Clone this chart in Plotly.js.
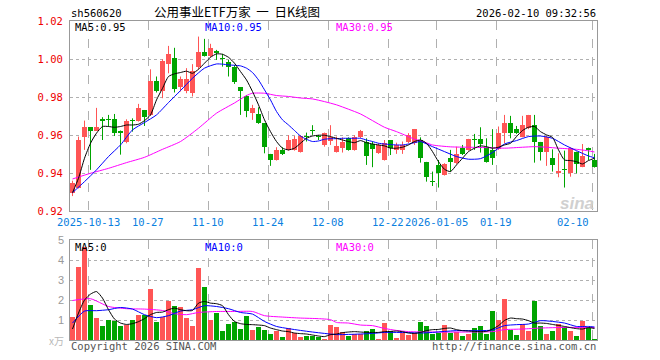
<!DOCTYPE html>
<html><head><meta charset="utf-8">
<script src="https://cdn.plot.ly/plotly-3.0.1.min.js"></script>
<style>html,body{margin:0;padding:0;background:#fff;}#chart{width:660px;height:360px;}</style>
</head><body><div id="chart"></div>
<script>
// ---- data (index 0..87 = trading days) ----
const tickIdx = [3, 13, 23, 33, 43, 53, 61, 71, 87];
const tickText = ['2025-10-13', '10-27', '11-10', '11-24', '12-08', '12-22', '2026-01-05', '01-19', '02-10'];

const openP = [
0.9295,0.9321,0.9593,0.9642,0.9625,0.9684,0.9684,0.9684,0.9625,0.9565,
0.9679,0.9677,0.9733,0.9705,0.9888,0.9835,0.9975,1.0007,0.9856,0.9833,
0.9821,0.9961,1.0039,1.0018,1.0040,1.0005,0.9986,0.9961,0.9853,0.9809,
0.9716,0.9712,0.9663,0.9502,0.9470,0.9523,0.9523,0.9523,0.9514,0.9593,
0.9625,0.9593,0.9549,0.9572,0.9514,0.9532,0.9584,0.9523,0.9589,0.9567,
0.9554,0.9509,0.9470,0.9575,0.9523,0.9523,0.9565,0.9558,0.9575,0.9460,
0.9361,0.9444,0.9391,0.9482,0.9453,0.9532,0.9523,0.9581,0.9581,0.9540,
0.9523,0.9528,0.9614,0.9663,0.9633,0.9593,0.9640,0.9654,0.9565,0.9514,
0.9479,0.9404,0.9421,0.9404,0.9512,0.9435,0.9535,0.9470];
const closeP = [
0.9351,0.9575,0.9642,0.9625,0.9642,0.9677,0.9680,0.9614,0.9614,0.9677,
0.9675,0.9744,0.9698,0.9888,0.9833,0.9988,1.0028,0.9844,0.9896,0.9896,
0.9940,1.0039,1.0018,1.0060,1.0035,1.0000,0.9958,0.9882,0.9835,0.9725,
0.9742,0.9667,0.9537,0.9470,0.9523,0.9502,0.9575,0.9579,0.9596,0.9589,
0.9621,0.9589,0.9611,0.9593,0.9544,0.9565,0.9523,0.9593,0.9625,0.9491,
0.9526,0.9549,0.9561,0.9532,0.9549,0.9549,0.9600,0.9633,0.9482,0.9382,
0.9356,0.9400,0.9449,0.9461,0.9502,0.9502,0.9581,0.9575,0.9554,0.9461,
0.9482,0.9611,0.9663,0.9611,0.9614,0.9654,0.9707,0.9567,0.9514,0.9593,
0.9444,0.9412,0.9416,0.9532,0.9447,0.9491,0.9523,0.9435];
const highP = [
0.9361,0.9593,0.9677,0.9642,0.9744,0.9695,0.9707,0.9712,0.9625,0.9684,
0.9689,0.9765,0.9733,0.9947,0.9909,1.0000,1.0070,1.0060,0.9909,0.9953,
0.9974,1.0119,1.0107,1.0081,1.0049,1.0028,0.9996,0.9970,0.9853,0.9812,
0.9760,0.9747,0.9663,0.9502,0.9537,0.9537,0.9600,0.9596,0.9600,0.9614,
0.9653,0.9602,0.9614,0.9653,0.9593,0.9589,0.9589,0.9600,0.9628,0.9584,
0.9567,0.9558,0.9575,0.9575,0.9561,0.9567,0.9611,0.9633,0.9589,0.9460,
0.9409,0.9470,0.9453,0.9523,0.9540,0.9549,0.9581,0.9607,0.9642,0.9584,
0.9632,0.9646,0.9707,0.9702,0.9649,0.9702,0.9707,0.9707,0.9565,0.9596,
0.9526,0.9505,0.9519,0.9537,0.9514,0.9554,0.9535,0.9502];
const lowP = [
0.9280,0.9320,0.9523,0.9418,0.9625,0.9575,0.9646,0.9596,0.9498,0.9558,
0.9619,0.9672,0.9649,0.9702,0.9825,0.9795,0.9926,0.9825,0.9830,0.9821,
0.9804,0.9947,1.0014,1.0010,0.9996,0.9961,0.9909,0.9870,0.9707,0.9695,
0.9681,0.9660,0.9505,0.9439,0.9467,0.9496,0.9519,0.9519,0.9509,0.9567,
0.9602,0.9575,0.9540,0.9549,0.9509,0.9509,0.9519,0.9519,0.9584,0.9444,
0.9432,0.9502,0.9467,0.9496,0.9502,0.9502,0.9558,0.9549,0.9456,0.9356,
0.9333,0.9325,0.9388,0.9409,0.9449,0.9496,0.9519,0.9523,0.9509,0.9456,
0.9444,0.9523,0.9558,0.9584,0.9607,0.9589,0.9632,0.9456,0.9467,0.9439,
0.9409,0.9379,0.9325,0.9382,0.9400,0.9432,0.9470,0.9430];

const ma5 = [
0.9298,0.9374,0.9479,0.9558,0.9611,0.9646,0.9646,0.9642,0.9646,0.9654,
0.9654,0.9658,0.9677,0.9707,0.9786,0.9847,0.9909,0.9923,0.9930,0.9937,
0.9926,0.9947,0.9979,1.0010,1.0028,1.0026,1.0010,0.9979,0.9935,0.9891,
0.9830,0.9760,0.9681,0.9619,0.9567,0.9532,0.9523,0.9532,0.9558,0.9584,
0.9596,0.9600,0.9600,0.9593,0.9584,0.9575,0.9567,0.9561,0.9572,0.9561,
0.9554,0.9549,0.9544,0.9532,0.9532,0.9537,0.9549,0.9567,0.9575,0.9558,
0.9514,0.9461,0.9421,0.9409,0.9444,0.9479,0.9514,0.9532,0.9544,0.9540,
0.9532,0.9537,0.9549,0.9558,0.9593,0.9625,0.9642,0.9646,0.9619,0.9602,
0.9589,0.9523,0.9470,0.9467,0.9461,0.9449,0.9467,0.9479];
const ma10Idx = [0,2,4,6,8,10,12,14,16,18,20,22,24,25,26,27,28,29,30,31,32,33,34,35,36,37,38,39,40,41,42,43,44,45,46,47,48,49,50,51,52,53,54,55,56,57,58,60,62,64,66,68,70,72,74,76,78,80,82,84,86,87];
const ma10 = [0.9298,0.9356,0.9418,0.9488,0.9549,0.9628,0.9667,0.9707,0.9772,0.9835,0.9900,0.9953,0.9975,0.9974,0.9970,0.9968,0.9965,0.9953,0.9930,0.9891,0.9839,0.9786,0.9725,0.9681,0.9654,0.9625,0.9596,0.9579,0.9567,0.9570,0.9579,0.9582,0.9582,0.9584,0.9584,0.9584,0.9584,0.9575,0.9567,0.9558,0.9554,0.9551,0.9549,0.9549,0.9554,0.9561,0.9567,0.9540,0.9514,0.9488,0.9474,0.9477,0.9509,0.9554,0.9572,0.9593,0.9596,0.9584,0.9549,0.9519,0.9491,0.9482];
const ma30Idx = [0,3,6,9,12,15,18,21,24,27,29,30,32,34,36,38,40,42,44,46,48,50,52,54,56,57,58,60,63,66,69,72,75,77,79,81,84,86,87];
const ma30 = [0.9370,0.9400,0.9426,0.9456,0.9484,0.9526,0.9567,0.9637,0.9716,0.9770,0.9809,0.9821,0.9821,0.9809,0.9804,0.9796,0.9791,0.9777,0.9760,0.9737,0.9712,0.9677,0.9642,0.9619,0.9593,0.9579,0.9572,0.9549,0.9539,0.9537,0.9535,0.9532,0.9537,0.9540,0.9537,0.9532,0.9526,0.9518,0.9512];

const vol = [
1.17,3.67,4.67,1.77,1.12,0.72,1.02,0.97,0.72,0.77,
1.02,1.27,1.27,2.57,0.92,1.13,1.97,1.72,1.67,1.12,
0.72,3.62,2.67,1.02,1.37,0.47,0.82,0.92,0.57,1.22,
0.52,0.67,0.52,0.32,0.47,0.17,0.58,0.37,0.13,0.22,
0.22,0.13,0.06,0.77,0.67,0.38,0.22,0.30,0.30,0.47,
0.57,0.07,0.87,0.47,0.12,0.37,0.27,0.35,0.92,0.72,
0.32,0.37,0.77,0.37,0.42,0.22,0.32,0.62,0.72,0.32,
1.47,1.02,2.07,0.52,0.27,0.82,0.47,1.97,0.72,0.32,
0.47,0.82,0.67,0.47,0.22,0.97,0.62,0.07];
const vma5 = [
0.55,1.35,2.00,2.30,2.43,2.10,1.52,1.05,0.85,0.78,
0.82,0.92,1.07,1.27,1.38,1.40,1.52,1.60,1.52,1.47,
1.48,1.85,1.93,1.85,1.82,1.72,1.27,0.93,0.82,0.78,
0.77,0.75,0.72,0.60,0.52,0.45,0.42,0.35,0.32,0.30,
0.25,0.20,0.17,0.27,0.30,0.37,0.40,0.42,0.40,0.38,
0.38,0.38,0.42,0.43,0.45,0.42,0.35,0.33,0.38,0.47,
0.52,0.53,0.58,0.60,0.52,0.47,0.45,0.43,0.42,0.43,
0.55,0.72,0.98,1.10,1.07,1.05,0.97,0.85,0.85,0.83,
0.78,0.73,0.68,0.62,0.57,0.55,0.62,0.58];
const vma10Idx = [0,2,4,6,8,10,12,14,16,18,20,22,24,26,28,30,32,34,36,38,40,42,44,46,48,50,52,54,56,58,60,62,64,66,68,70,72,74,76,78,80,82,84,86,87];
const vma10 = [0.85,1.45,1.47,1.52,1.63,1.55,1.27,1.12,1.22,1.45,1.52,1.72,1.68,1.57,1.38,1.30,0.93,0.68,0.57,0.48,0.40,0.33,0.27,0.28,0.30,0.33,0.38,0.38,0.37,0.35,0.38,0.43,0.47,0.47,0.47,0.50,0.72,0.77,0.80,0.97,0.93,0.85,0.68,0.68,0.65];
const vma30Idx = [0,3,6,9,12,15,17,19,21,24,27,30,32,35,38,41,43,44,46,48,50,52,54,56,60,66,70,72,75,78,82,87];
const vma30 = [1.98,2.07,1.68,1.57,1.55,1.48,1.32,1.27,1.38,1.43,1.43,1.43,1.22,1.15,1.10,1.07,1.02,0.88,0.85,0.75,0.72,0.58,0.48,0.42,0.40,0.40,0.42,0.52,0.55,0.60,0.63,0.63];

// ---- styling ----
const RED = '#ff5555', GREEN = '#00a400';
const MONO = 'DejaVu Sans Mono, Liberation Mono, monospace';
const L = 70, R = 597, TOP = 21, BOT = 340;
const W = R - L, H = BOT - TOP;
const px = x => (x - L) / W;
const py = y => (BOT - y) / H;

const idx = openP.map((_, i) => i);
const isUp = idx.map(i => closeP[i] >= openP[i]);

function wick(up) {
  const xs = [], ys = [];
  idx.forEach(i => { if (isUp[i] === up) { xs.push(i, i, null); ys.push(lowP[i], highP[i], null); } });
  return { type: 'scatter', mode: 'lines', x: xs, y: ys, xaxis: 'x', yaxis: 'y',
    line: { color: up ? RED : GREEN, width: 1 }, hoverinfo: 'skip', showlegend: false };
}
function body(up) {
  const xs = [], b = [], h = [];
  idx.forEach(i => { if (isUp[i] === up) {
    xs.push(i); b.push(Math.min(openP[i], closeP[i]));
    h.push(Math.max(Math.abs(closeP[i] - openP[i]), 0.0006)); } });
  return { type: 'bar', x: xs, y: h, base: b, width: 5 / 6, xaxis: 'x', yaxis: 'y',
    marker: { color: up ? RED : GREEN, line: { width: 0 } }, hoverinfo: 'skip', showlegend: false };
}
const line = (x, y, color, xa, ya) => ({ type: 'scatter', mode: 'lines', x, y, xaxis: xa, yaxis: ya,
  line: { color, width: 1, shape: 'spline', smoothing: 0.6 }, hoverinfo: 'skip', showlegend: false });

const traces = [
  wick(true), wick(false), body(true), body(false),
  line(ma30Idx, ma30, '#ff00ff', 'x', 'y'),
  line(ma10Idx, ma10, '#0000ff', 'x', 'y'),
  line(idx, ma5, '#000000', 'x', 'y'),
  { type: 'bar', x: idx, y: vol, width: 5 / 6, xaxis: 'x2', yaxis: 'y2',
    marker: { color: idx.map(i => isUp[i] ? RED : GREEN), line: { width: 0 } }, hoverinfo: 'skip', showlegend: false },
  line(vma30Idx, vma30, '#ff00ff', 'x2', 'y2'),
  line(vma10Idx, vma10, '#0000ff', 'x2', 'y2'),
  line(idx, vma5, '#000000', 'x2', 'y2')
];

const gridX = tickIdx.map(i => i - 0.4);
const xRange = [-2.5 / 6, (R - 72.5) / 6];
const xCommon = { range: xRange, tickvals: gridX, showticklabels: false, ticks: '',
  showgrid: true, gridcolor: '#b0b0b0', griddash: 'dash', gridwidth: 1, zeroline: false,
  showline: true, mirror: true, linecolor: '#999', linewidth: 1, fixedrange: true };

const priceTicks = [0.92, 0.94, 0.96, 0.98, 1.00, 1.02];
const priceTickText = ['0.92', '0.94', '0.96', '0.98', '1.00', '1.02'];
const volTicks = [1, 2, 3, 4, 5];
const volTickText = ['1', '2', '3', '4', '5'];

const ann = [];
const txt = (text, x, y, xanchor, size, color, family) => ann.push({ text, x: px(x), y: py(y),
  xref: 'paper', yref: 'paper', xanchor, yanchor: 'middle', showarrow: false,
  font: { size, color, family: family || MONO } });

txt('sh560620', 69, 13, 'left', 10.5, '#000');
txt('公用事业ETF万家&nbsp; 一 &nbsp;日K线图', 237, 12, 'center', 12.5, '#000', 'Noto Sans CJK SC, sans-serif');
txt('2026-02-10 09:32:56', 598, 13, 'right', 10.5, '#000');
txt('MA5:0.95', 73, 26.5, 'left', 10.5, '#000');
txt('MA10:0.95', 203, 26.5, 'left', 10.5, '#0000ff');
txt('MA30:0.95', 334, 26.5, 'left', 10.5, '#ff00ff');
txt('MA5:0', 73, 246.5, 'left', 10.5, '#000');
txt('MA10:0', 203, 246.5, 'left', 10.5, '#0000ff');
txt('MA30:0', 334, 246.5, 'left', 10.5, '#ff00ff');
txt('x万', 66, 341, 'right', 10, '#b8b8b8', 'Noto Sans CJK SC, serif');
txt('Copyright 2026 SINA.COM', 69, 346, 'left', 10.5, '#555');
txt('http://finance.sina.com.cn', 598, 346, 'right', 10.5, '#555');
ann.push({ text: '<b><i>sina</i></b>', x: px(596), y: py(203), xref: 'paper', yref: 'paper',
  xanchor: 'right', yanchor: 'middle', showarrow: false,
  font: { size: 17, color: '#d0d0d0', family: 'Liberation Sans, Arial, sans-serif' } });
tickIdx.forEach((t, k) => {
  const last = k === tickIdx.length - 1;
  ann.push({ text: tickText[k], x: t - 0.4, y: 0.92, xref: 'x', yref: 'y',
    xanchor: last ? 'right' : 'center', yanchor: 'top', yshift: -3, xshift: last ? -1 : 0,
    showarrow: false, font: { size: 10.5, color: '#0a80e0', family: MONO } });
});
// volume axis labels (drawn at the axis values of y2)
volTicks.forEach((v, k) => ann.push({ text: volTickText[k], x: px(66), y: v, xref: 'paper', yref: 'y2',
  xanchor: 'right', yanchor: 'middle', showarrow: false,
  font: { size: 11, color: '#999', family: 'Liberation Sans, Arial, sans-serif' } }));

const layout = {
  width: 660, height: 360, margin: { l: L, r: 660 - R, t: TOP, b: 360 - BOT },
  paper_bgcolor: '#fff', plot_bgcolor: '#fff', barmode: 'overlay', bargap: 0,
  showlegend: false, hovermode: false,
  xaxis: Object.assign({ anchor: 'y', domain: [0, 1] }, xCommon),
  xaxis2: Object.assign({ anchor: 'y2', domain: [0, 1] }, xCommon),
  yaxis: { domain: [py(211.3), 1], range: [0.92, 1.0201], tickvals: priceTicks, ticktext: priceTickText,
    ticks: '', ticklabelstandoff: 4, showgrid: true, gridcolor: '#b0b0b0', griddash: 'dot', gridwidth: 1,
    zeroline: false, showline: true, mirror: true, linecolor: '#999', linewidth: 1, fixedrange: true,
    tickfont: { size: 10.5, color: '#ee0000', family: MONO } },
  yaxis2: { domain: [0, py(240.3)], range: [0, 5], tickvals: volTicks, showticklabels: false,
    ticks: '', showgrid: true, gridcolor: '#b0b0b0', griddash: 'dot', gridwidth: 1,
    zeroline: false, showline: true, mirror: true, linecolor: '#999', linewidth: 1, fixedrange: true },
  annotations: ann
};

Plotly.newPlot('chart', traces, layout, { displayModeBar: false, staticPlot: true });
</script>
</body></html>
